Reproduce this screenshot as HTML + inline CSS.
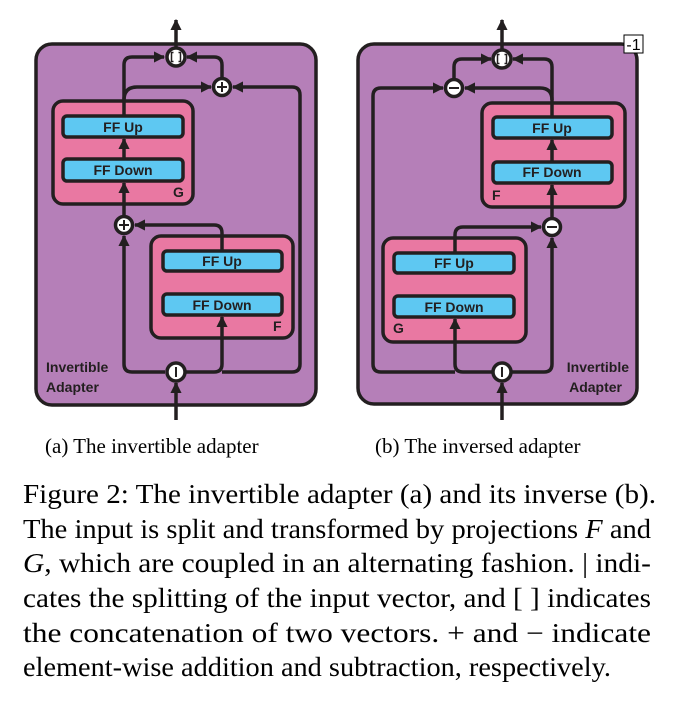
<!DOCTYPE html>
<html><head><meta charset="utf-8"><style>
html,body{margin:0;padding:0;background:#fff;}
svg{display:block}
.b{font-family:"Liberation Sans",sans-serif;font-size:14px;fill:#231f20;font-weight:bold;}
.s{font-family:"Liberation Serif",serif;fill:#000;}
</style></head><body>
<svg width="673" height="701" viewBox="0 0 673 701" xmlns="http://www.w3.org/2000/svg">
<defs>
<marker id="a" viewBox="0 0 10 10" refX="9" refY="5" markerWidth="3.2" markerHeight="3.2" orient="auto" markerUnits="strokeWidth"><path d="M0,0 L10,5 L0,10 z" fill="#231f20"/></marker>
</defs>
<g stroke="#231f20" stroke-width="3.5" fill="none">
<rect x="36" y="44" width="280" height="361" rx="16" fill="#b57fb8"/>
<rect x="53" y="101" width="140" height="103" rx="10" fill="#e978a2"/>
<rect x="63" y="116" width="120" height="21" rx="4" fill="#5ec8f2"/>
<rect x="63" y="159" width="120" height="22" rx="4" fill="#5ec8f2"/>
<rect x="151" y="236" width="142" height="102" rx="10" fill="#e978a2"/>
<rect x="163" y="251" width="119" height="20" rx="4" fill="#5ec8f2"/>
<rect x="163" y="294" width="119" height="21" rx="4" fill="#5ec8f2"/>
<path d="M176,420 V383" marker-end="url(#a)"/>
<path d="M176,48 V20" marker-end="url(#a)"/>
<path d="M165,372 H132 Q124,372 124,364 V236" marker-end="url(#a)"/>
<path d="M183,372 H214 Q222,372 222,364 V317" marker-end="url(#a)"/>
<path d="M222,372 H292 Q300,372 300,364 V95 Q300,87 292,87 H233" marker-end="url(#a)"/>
<path d="M222,251 V233 Q222,225 214,225 H135" marker-end="url(#a)"/>
<path d="M124,216 V183" marker-end="url(#a)"/>
<path d="M124,159 V139" marker-end="url(#a)"/>
<path d="M124,116 V65 Q124,57 132,57 H164" marker-end="url(#a)"/>
<path d="M124,100 Q124,87 137,87 H211" marker-end="url(#a)"/>
<path d="M222,78 V65 Q222,57 214,57 H187" marker-end="url(#a)"/>
<circle cx="176" cy="57" r="9" fill="#fff"/>
<circle cx="222" cy="87" r="8.5" fill="#fff"/>
<circle cx="124" cy="225" r="8.5" fill="#fff"/>
<circle cx="176" cy="372" r="9" fill="#fff"/>
<rect x="358" y="44" width="279" height="360" rx="16" fill="#b57fb8"/>
<rect x="482" y="103" width="143" height="104" rx="10" fill="#e978a2"/>
<rect x="493" y="117" width="119" height="21" rx="4" fill="#5ec8f2"/>
<rect x="493" y="162" width="119" height="21" rx="4" fill="#5ec8f2"/>
<rect x="383" y="238" width="143" height="104" rx="10" fill="#e978a2"/>
<rect x="394" y="253" width="120" height="20" rx="4" fill="#5ec8f2"/>
<rect x="394" y="296" width="120" height="21" rx="4" fill="#5ec8f2"/>
<path d="M502,420 V383" marker-end="url(#a)"/>
<path d="M502,50 V20" marker-end="url(#a)"/>
<path d="M492,372 H463 Q455,372 455,364 V319" marker-end="url(#a)"/>
<path d="M455,372 H381 Q373,372 373,364 V96 Q373,88 381,88 H443" marker-end="url(#a)"/>
<path d="M512,372 H544 Q552,372 552,364 V238" marker-end="url(#a)"/>
<path d="M455,253 V235 Q455,227 463,227 H541" marker-end="url(#a)"/>
<path d="M552,218 V185" marker-end="url(#a)"/>
<path d="M552,162 V140" marker-end="url(#a)"/>
<path d="M552,117 V67 Q552,59 544,59 H513" marker-end="url(#a)"/>
<path d="M552,100 Q552,88 540,88 H465" marker-end="url(#a)"/>
<path d="M454,79 V67 Q454,59 462,59 H491" marker-end="url(#a)"/>
<circle cx="502" cy="59" r="9" fill="#fff"/>
<circle cx="454" cy="88" r="8.5" fill="#fff"/>
<circle cx="552" cy="227" r="8.5" fill="#fff"/>
<circle cx="502" cy="372" r="9" fill="#fff"/>
</g>
<g stroke="#231f20" stroke-width="1.5" fill="none">
<path d="M173.5,52.5 h-2 v9 h2 M178.5,52.5 h2 v9 h-2"/>
<path d="M499.5,54.5 h-2 v9 h2 M504.5,54.5 h2 v9 h-2"/>
</g>
<g stroke="#231f20" stroke-width="2" fill="none">
<path d="M217,87 h10 M222,82 v10"/>
<path d="M119,225 h10 M124,220 v10"/>
<path d="M449,88 h10"/>
<path d="M547,227 h10"/>
<path d="M176,367 v10"/>
<path d="M502,367 v10"/>
</g>
<rect x="624" y="35" width="19" height="18" fill="#fff" stroke="#000" stroke-width="1"/>
<text x="633.5" y="50" text-anchor="middle" font-family="Liberation Sans,sans-serif" font-size="16" fill="#000">-1</text>
<g class="b" text-anchor="middle">
<text x="123" y="132">FF Up</text>
<text x="123" y="175">FF Down</text>
<text x="222" y="266">FF Up</text>
<text x="222" y="310">FF Down</text>
<text x="552" y="133">FF Up</text>
<text x="552" y="177">FF Down</text>
<text x="454" y="268">FF Up</text>
<text x="454" y="312">FF Down</text>
</g>
<g class="b" font-size="14">
<text x="173" y="197">G</text>
<text x="273" y="331">F</text>
<text x="492" y="200">F</text>
<text x="393" y="333">G</text>
<text x="46" y="372">Invertible</text>
<text x="46" y="392">Adapter</text>
<text x="629" y="372" text-anchor="end">Invertible</text>
<text x="622" y="392" text-anchor="end">Adapter</text>
</g>
<g class="s" font-size="21">
<text x="45" y="453">(a) The invertible adapter</text>
<text x="375" y="453">(b) The inversed adapter</text>
</g>
<g class="s" font-size="27">
<text x="23" y="503" textLength="633" lengthAdjust="spacingAndGlyphs">Figure 2: The invertible adapter (a) and its inverse (b).</text>
<text x="23" y="538" textLength="628" lengthAdjust="spacingAndGlyphs">The input is split and transformed by projections <tspan font-style="italic">F</tspan> and</text>
<text x="23" y="572" textLength="628" lengthAdjust="spacingAndGlyphs"><tspan font-style="italic">G</tspan>, which are coupled in an alternating fashion. | indi-</text>
<text x="23" y="607" textLength="628" lengthAdjust="spacingAndGlyphs">cates the splitting of the input vector, and [ ] indicates</text>
<text x="23" y="642" textLength="628" lengthAdjust="spacingAndGlyphs">the concatenation of two vectors.  + and − indicate</text>
<text x="23" y="676" textLength="588" lengthAdjust="spacingAndGlyphs">element-wise addition and subtraction, respectively.</text>
</g>
</svg>
</body></html>
